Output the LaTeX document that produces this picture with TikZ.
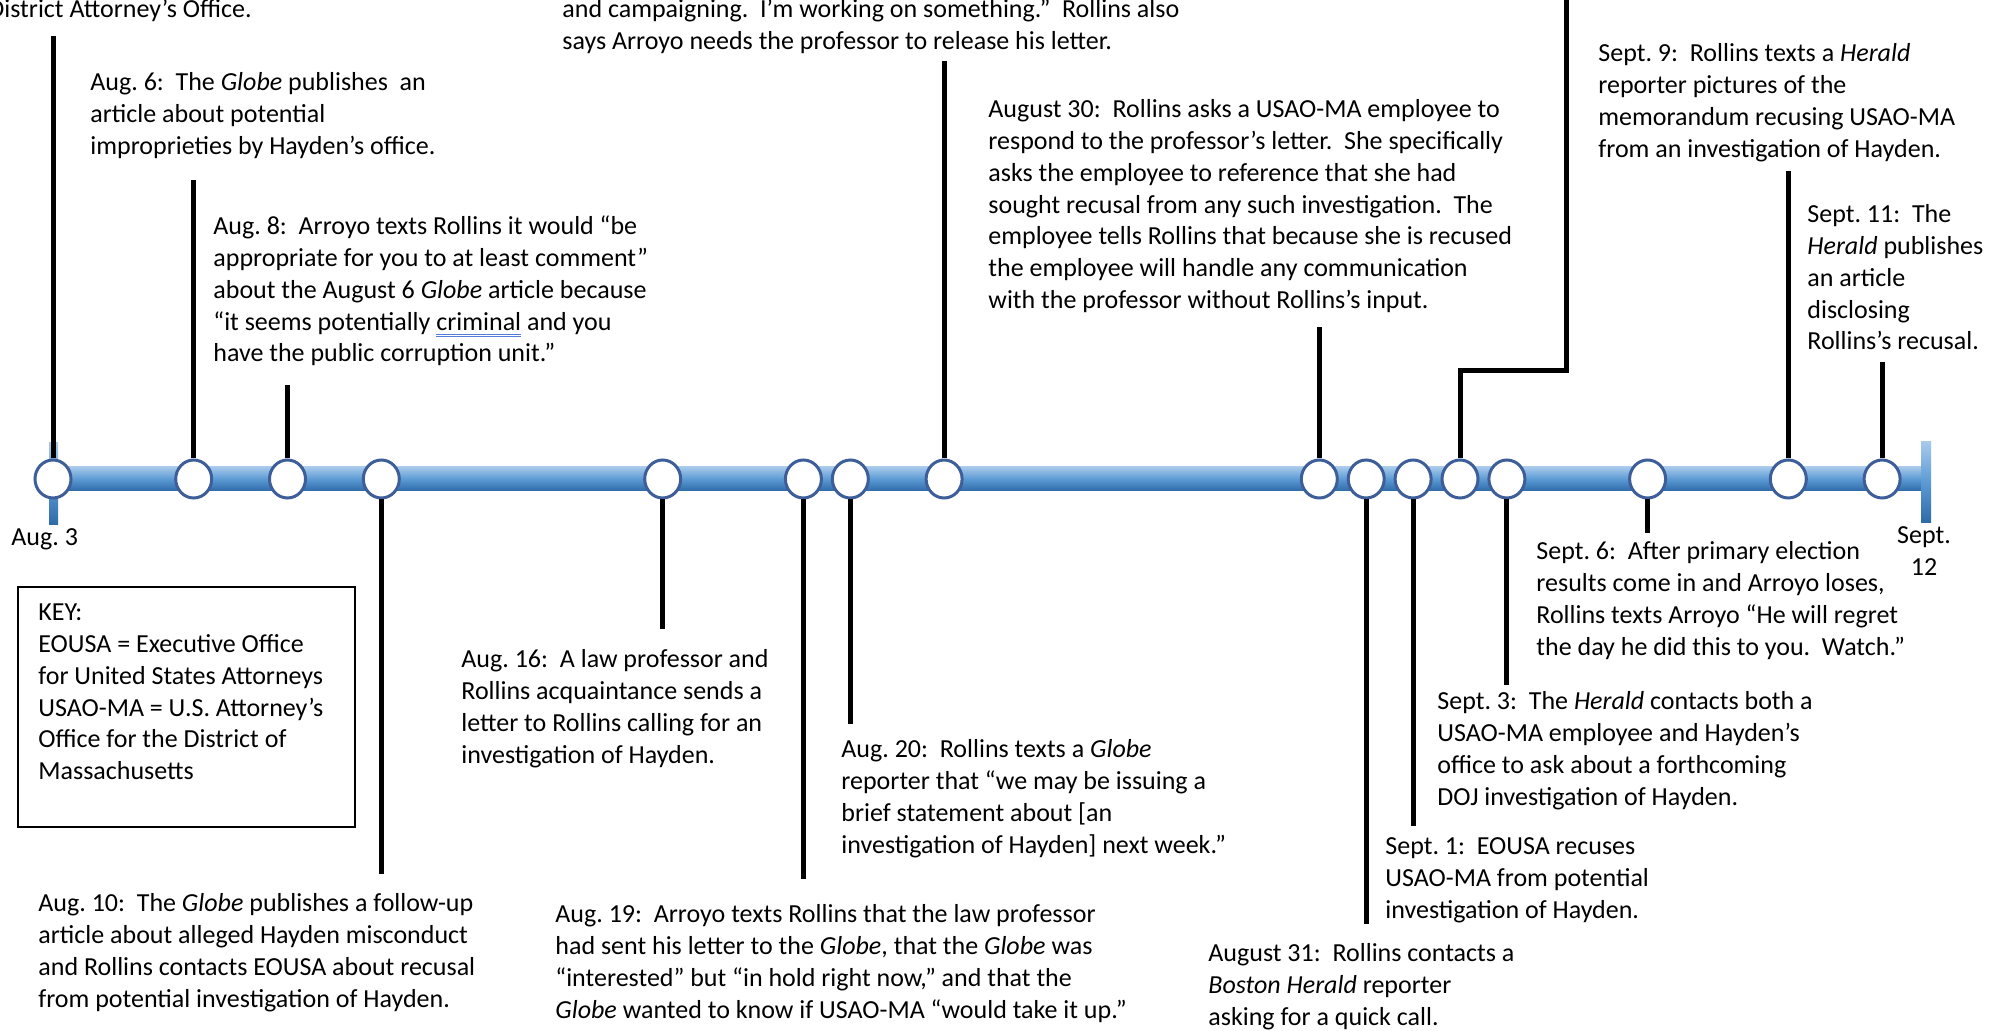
\documentclass[tikz,border=0pt]{standalone}
\usepackage{fontspec}
\setmainfont{Carlito}
\usetikzlibrary{shapes.geometric}
\frenchspacing

\definecolor{bartop}{RGB}{166,201,235}
\definecolor{barmid}{RGB}{92,154,212}
\definecolor{barbot}{RGB}{45,106,168}
\definecolor{dotedge}{RGB}{62,94,154}
\definecolor{flagblue}{RGB}{84,124,222}

\newcommand{\notefont}{\fontsize{13}{15.9}\selectfont}
% double blue underline (as in the source)
\newcommand{\flagged}[1]{\leavevmode\setbox0\hbox{#1}%
  \rlap{\color{flagblue}\rule[-2.3pt]{\wd0}{0.45pt}}%
  \rlap{\color{flagblue}\rule[-3.4pt]{\wd0}{0.45pt}}\box0\relax}

\begin{document}
\begin{tikzpicture}[x=0.5pt,y=-0.5pt,
  dot/.style={ellipse,draw=dotedge,line width=1.5pt,fill=white,
    minimum width=18pt,minimum height=19pt,inner sep=0pt},
  stem/.style={line width=2.5pt},
  note/.style={anchor=north west,align=left,inner sep=0pt,font=\notefont},
  tick/.style={top color=bartop,bottom color=barbot,middle color=barmid}]
\useasboundingbox (0,0) rectangle (1998,1031);

%ось
\shade[tick] (53,467) rectangle (1926,491);
\shade[tick] (49,443) rectangle (58,525); %Aug. 3
\shade[tick] (1921,442) rectangle (1931,523); %Sept. 12

%дни
\foreach \d in {0,3,5,7,13,16,17,19,27,28,29,30,31,34,37,39}
  \node[dot] (d\d) at (53+46.9*\d,479) {};

%вверх
\foreach \d/\y in {0/36,3/180,5/385,19/61,27/327,37/171,39/362}{
  \coordinate (t\d) at (d\d |- 0,\y);
  \draw[stem] (d\d.north) -- (t\d);}
%вниз
\foreach \d/\y in {7/874,13/629,16/879,17/724,28/924,29/826,31/685,34/533}{
  \coordinate (t\d) at (d\d |- 0,\y);
  \draw[stem] (d\d.south) -- (t\d);}
\coordinate (j1) at (1566,371);
\coordinate (j2) at (1566,-5);
\draw[stem] (d30.north) |- (j1) -- (j2); %Sept. 2

%подписи
\node[note,anchor=north east] (dao) at (252,-5) {\strut District Attorney’s Office.};
\node[note] (camp) at (562,-5) {\strut and campaigning.\ \ I’m working on something.”\ \ Rollins also\\
  says Arroyo needs the professor to release his letter.};
\node[note] (aug6) at (90,68) {\strut Aug. 6:\ \ The \emph{Globe} publishes\ \ an\\
  article about potential\\ improprieties by Hayden’s office.};
\node[note] (aug8) at (213,212) {\strut Aug. 8:\ \ Arroyo texts Rollins it would “be\\
  appropriate for you to at least comment”\\
  about the August 6 \emph{Globe} article because\\
  “it seems potentially \flagged{criminal} and you\\
  have the public corruption unit.”};
\node[note] (aug30) at (988,95) {\strut August 30:\ \ Rollins asks a USAO-MA employee to\\
  respond to the professor’s letter.\ \ She specifically\\
  asks the employee to reference that she had\\
  sought recusal from any such investigation.\ \ The\\
  employee tells Rollins that because she is recused\\
  the employee will handle any communication\\
  with the professor without Rollins’s input.};
\node[note] (sep9) at (1598,39) {\strut Sept. 9:\ \ Rollins texts a \emph{Herald}\\
  reporter pictures of the\\ memorandum recusing USAO-MA\\ from an investigation of Hayden.};
\node[note] (sep11) at (1807,200) {\strut Sept. 11:\ \ The\\ \emph{Herald} publishes\\ an article\\
  disclosing\\ Rollins’s recusal.};
\node[note] (lbl3) at (11,523) {\strut Aug. 3};
\node[note,anchor=north,align=center] (lbl12) at (1924,521) {\strut Sept.\\ 12};

\draw[line width=1.3pt] (18,587) rectangle (355,827); %KEY
\node[note] (key) at (38,598) {\strut KEY:\\ EOUSA = Executive Office\\ for United States Attorneys\\
  USAO-MA = U.S. Attorney’s\\ Office for the District of\\ Massachusetts};

\node[note] (aug16) at (461,645) {\strut Aug. 16:\ \ A law professor and\\
  Rollins acquaintance sends a\\ letter to Rollins calling for an\\ investigation of Hayden.};
\node[note] (aug10) at (38,889) {\strut Aug. 10:\ \ The \emph{Globe} publishes a follow-up\\
  article about alleged Hayden misconduct\\
  and Rollins contacts EOUSA about recusal\\
  from potential investigation of Hayden.};
\node[note] (aug19) at (555,900) {\strut Aug. 19:\ \ Arroyo texts Rollins that the law professor\\
  had sent his letter to the \emph{Globe}, that the \emph{Globe} was\\
  “interested” but “in hold right now,” and that the\\
  \emph{Globe} wanted to know if USAO-MA “would take it up.”};
\node[note] (aug20) at (841,735) {\strut Aug. 20:\ \ Rollins texts a \emph{Globe}\\
  reporter that “we may be issuing a\\ brief statement about [an\\
  investigation of Hayden] next week.”};
\node[note] (aug31) at (1208,939) {\strut August 31:\ \ Rollins contacts a\\
  \emph{Boston Herald} reporter\\ asking for a quick call.};
\node[note] (sep1) at (1385,832) {\strut Sept. 1:\ \ EOUSA recuses\\
  USAO-MA from potential\\ investigation of Hayden.};
\node[note] (sep3) at (1437,687) {\strut Sept. 3:\ \ The \emph{Herald} contacts both a\\
  USAO-MA employee and Hayden’s\\ office to ask about a forthcoming\\
  DOJ investigation of Hayden.};
\node[note] (sep6) at (1536,537) {\strut Sept. 6:\ \ After primary election\\
  results come in and Arroyo loses,\\ Rollins texts Arroyo “He will regret\\
  the day he did this to you.\ \ Watch.”};
\end{tikzpicture}
\end{document}
